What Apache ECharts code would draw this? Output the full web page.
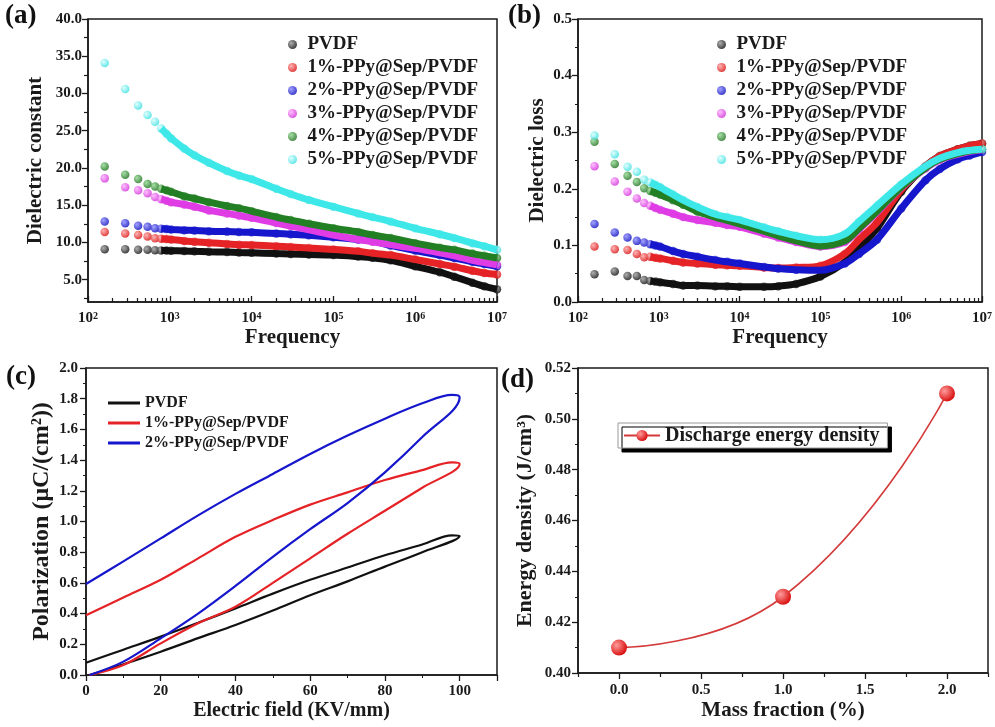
<!DOCTYPE html>
<html><head><meta charset="utf-8">
<script src="https://cdn.jsdelivr.net/npm/echarts@6/dist/echarts.min.js"></script>
<style>html,body{margin:0;padding:0;background:#fff}#c{width:995px;height:727px}</style>
</head><body><div id="c"></div>
<script>
// ---------- data ----------
const seriesNames = ['PVDF','1%-PPy@Sep/PVDF','2%-PPy@Sep/PVDF','3%-PPy@Sep/PVDF','4%-PPy@Sep/PVDF','5%-PPy@Sep/PVDF'];
const freq = [160, 285, 410, 535, 660, 785, 910, 1035, 1500, 2000, 3000, 5000, 7000, 10000, 20000, 30000, 50000, 1e5, 2e5, 3e5, 5e5, 1e6, 2e6, 3e6, 5e6, 7e6, 1e7];
// (a) dielectric constant
const epsPVDF = [9.07, 9.07, 9.0, 9.0, 8.95, 8.9, 8.9, 8.88, 8.85, 8.8, 8.75, 8.7, 8.65, 8.6, 8.5, 8.45, 8.38, 8.3, 8.1, 7.95, 7.6, 6.8, 6.0, 5.4, 4.6, 4.1, 3.7];
const eps1 = [11.4, 11.2, 11.0, 10.8, 10.55, 10.5, 10.45, 10.4, 10.2, 10.1, 9.95, 9.8, 9.7, 9.65, 9.5, 9.4, 9.25, 9.05, 8.8, 8.55, 8.3, 7.7, 7.1, 6.75, 6.2, 5.9, 5.7];
const eps2 = [12.8, 12.57, 12.25, 12.1, 11.9, 11.85, 11.8, 11.75, 11.65, 11.6, 11.5, 11.45, 11.4, 11.35, 11.2, 11.1, 10.95, 10.7, 10.4, 10.2, 9.6, 8.9, 8.3, 7.9, 7.4, 7.1, 6.8];
const eps3 = [18.6, 17.4, 17.0, 16.6, 16.1, 15.8, 15.6, 15.4, 15.1, 14.8, 14.3, 13.9, 13.6, 13.3, 12.6, 12.2, 11.7, 11.0, 10.4, 10.1, 9.7, 9.2, 8.6, 8.2, 7.6, 7.3, 7.0];
const eps4 = [20.2, 19.1, 18.5, 17.85, 17.5, 17.2, 17.0, 16.8, 16.2, 15.9, 15.4, 14.9, 14.6, 14.2, 13.4, 13.0, 12.5, 11.9, 11.4, 11.0, 10.6, 9.9, 9.3, 9.0, 8.5, 8.2, 7.9];
const eps5 = [34.1, 30.6, 28.4, 27.1, 26.2, 25.3, 24.6, 24.0, 22.6, 21.7, 20.7, 19.6, 19.0, 18.5, 17.2, 16.5, 15.7, 14.8, 13.9, 13.4, 12.8, 11.9, 11.1, 10.6, 9.9, 9.5, 9.0];
// (b) dielectric loss
const lossPVDF = [0.049, 0.054, 0.046, 0.046, 0.039, 0.037, 0.036, 0.035, 0.032, 0.029, 0.029, 0.028, 0.028, 0.027, 0.027, 0.028, 0.032, 0.045, 0.070, 0.095, 0.130, 0.195, 0.240, 0.258, 0.270, 0.276, 0.280];
const loss1 = [0.098, 0.093, 0.092, 0.085, 0.079, 0.080, 0.078, 0.077, 0.073, 0.070, 0.068, 0.066, 0.065, 0.064, 0.061, 0.060, 0.061, 0.064, 0.085, 0.110, 0.140, 0.198, 0.240, 0.258, 0.270, 0.276, 0.280];
const loss2 = [0.138, 0.123, 0.114, 0.108, 0.105, 0.102, 0.100, 0.098, 0.090, 0.085, 0.080, 0.074, 0.071, 0.068, 0.062, 0.059, 0.057, 0.056, 0.068, 0.085, 0.110, 0.165, 0.215, 0.235, 0.252, 0.259, 0.265];
const loss3 = [0.240, 0.213, 0.195, 0.183, 0.175, 0.170, 0.166, 0.163, 0.156, 0.150, 0.145, 0.140, 0.136, 0.133, 0.121, 0.114, 0.106, 0.098, 0.106, 0.128, 0.158, 0.202, 0.236, 0.251, 0.261, 0.266, 0.269];
const loss4 = [0.283, 0.244, 0.223, 0.212, 0.201, 0.196, 0.193, 0.190, 0.180, 0.172, 0.160, 0.150, 0.144, 0.138, 0.125, 0.117, 0.108, 0.099, 0.108, 0.130, 0.160, 0.203, 0.237, 0.252, 0.262, 0.267, 0.270];
const loss5 = [0.294, 0.261, 0.239, 0.230, 0.216, 0.211, 0.207, 0.203, 0.190, 0.180, 0.168, 0.155, 0.150, 0.145, 0.132, 0.125, 0.117, 0.110, 0.120, 0.142, 0.170, 0.208, 0.240, 0.254, 0.264, 0.268, 0.270];
// (c) P-E loops (lower branch up to 100, upper branch back to 0)
const loopNames = ['PVDF','1%-PPy@Sep/PVDF','2%-PPy@Sep/PVDF'];
const loopField = [1, 10, 20, 30, 40, 50, 60, 70, 80, 90, 100, 98, 90, 80, 70, 60, 50, 40, 30, 20, 10, 0];
const polPVDF = [0, 0.07, 0.152, 0.24, 0.326, 0.42, 0.52, 0.61, 0.706, 0.80, 0.905, 0.91, 0.85, 0.78, 0.70, 0.62, 0.53, 0.434, 0.34, 0.25, 0.165, 0.08];
const pol1 = [0, 0.065, 0.206, 0.337, 0.445, 0.60, 0.76, 0.92, 1.07, 1.22, 1.375, 1.385, 1.335, 1.27, 1.19, 1.11, 1.01, 0.90, 0.76, 0.62, 0.505, 0.39];
const pol2 = [0, 0.087, 0.239, 0.40, 0.58, 0.77, 0.95, 1.12, 1.32, 1.55, 1.81, 1.825, 1.77, 1.67, 1.56, 1.44, 1.31, 1.18, 1.04, 0.89, 0.74, 0.593];
// (d) energy density
const massFraction = [0, 1, 2];
const energyDensity = [0.41, 0.43, 0.51];
// tick labels
const epsTicks = [5, 10, 15, 20, 25, 30, 35, 40];
const massTicks = [0, 0.5, 1.0, 1.5, 2.0];

// ---------- styles ----------
const F = 'Liberation Serif';
const ink = '#1a1a1a';
const bandColors = ['#111111', '#e52226', '#1616cc', '#e03ce6', '#237f23', '#3fe8e8'];
const shade = [['#9a9a9a','#000000'], ['#ffa0a0','#d40000'], ['#8a8aff','#0000b8'], ['#ffb0ff','#cc22d4'], ['#8fd88f','#126412'], ['#d8ffff','#2cdcdc']];
function sphere(i) {
  return {type:'radial', x:0.35, y:0.35, r:0.75, colorStops:[{offset:0,color:shade[i][0]},{offset:1,color:shade[i][1]}]};
}
const lblFont = {fontFamily:F, fontWeight:'bold', fontSize:15, color:ink};
const nameFont = {fontFamily:F, fontWeight:'bold', fontSize:21, color:ink};
const axLine = {show:true, onZero:false, lineStyle:{color:ink, width:1.5}};
const minorLog = [];
for (let d = 2; d < 7; d++) for (let m = 2; m <= 9; m++) minorLog.push(m * Math.pow(10, d));
const epsMinor = [7.5, 12.5, 17.5, 22.5, 27.5, 32.5, 37.5, 2.5];
const massMinor = [-0.25, 0.25, 0.75, 1.25, 1.75, 2.25];

function logMain(grid) {
  return {gridIndex:grid, type:'log', logBase:10, min:100, max:1e7, splitNumber:5, position:'bottom',
    axisLine:axLine, axisTick:{inside:true, length:6, lineStyle:{color:ink, width:1.3}},
    splitLine:{show:false},
    axisLabel:{margin:9, formatter:v => '{b|10}{s|' + Math.round(Math.log10(v)) + '}',
      rich:{b:{fontFamily:F, fontWeight:'bold', fontSize:15, color:ink}, s:{fontFamily:F, fontWeight:'bold', fontSize:10, color:ink, verticalAlign:'top'}}},
    name:'Frequency', nameLocation:'middle', nameGap:25, nameTextStyle:nameFont};
}
function minorAxis(grid, type, min, max, vals, pos, inside) {
  return {gridIndex:grid, type:type, min:min, max:max, position:pos,
    axisLine:{show:false, onZero:false}, axisLabel:{show:false}, splitLine:{show:false},
    axisTick:{show:true, inside:inside, length:4, customValues:vals, lineStyle:{color:ink, width:1.2}}};
}

const grids = [
  {left:88, top:19, width:409, height:283},
  {left:578, top:19, width:410, height:283},
  {left:86, top:368, width:411, height:307},
  {left:578, top:368, width:410, height:305}
].map(g => Object.assign(g, {show:true, borderColor:ink, borderWidth:1.5}));

const xAxis = [
  logMain(0),
  minorAxis(0, 'log', 100, 1e7, minorLog, 'bottom', true),
  logMain(1),
  minorAxis(1, 'log', 100, 1e7, minorLog, 'bottom', true),
  {gridIndex:2, type:'value', min:0, max:110, interval:20, position:'bottom',
    axisLine:axLine, axisTick:{length:6, lineStyle:{color:ink, width:1.3}}, minorTick:{show:true, splitNumber:2, length:3, lineStyle:{color:ink}},
    splitLine:{show:false}, minorSplitLine:{show:false},
    axisLabel:Object.assign({margin:9, showMaxLabel:false}, lblFont),
    name:'Electric field (KV/mm)', nameLocation:'middle', nameGap:26, nameTextStyle:Object.assign({}, nameFont, {fontSize:20})},
  {gridIndex:3, type:'value', min:-0.25, max:2.25, position:'bottom',
    axisLine:axLine, axisTick:{length:6, customValues:massTicks, lineStyle:{color:ink, width:1.3}},
    splitLine:{show:false},
    axisLabel:Object.assign({margin:10, customValues:massTicks, formatter:v => v.toFixed(1)}, lblFont),
    name:'Mass fraction (%)', nameLocation:'middle', nameGap:27, nameTextStyle:Object.assign({}, nameFont, {fontSize:21})},
  minorAxis(3, 'value', -0.25, 2.25, massMinor, 'bottom', false)
];

const yAxis = [
  {gridIndex:0, type:'value', min:2, max:40, position:'left',
    axisLine:axLine, axisTick:{length:6, customValues:epsTicks, lineStyle:{color:ink, width:1.3}},
    splitLine:{show:false},
    axisLabel:Object.assign({margin:6, customValues:epsTicks, formatter:v => v.toFixed(1)}, lblFont),
    name:'Dielectric constant', nameLocation:'middle', nameGap:42, nameTextStyle:nameFont},
  minorAxis(0, 'value', 2, 40, epsMinor, 'left', false),
  {gridIndex:1, type:'value', min:0, max:0.5, interval:0.1, position:'left',
    axisLine:axLine, axisTick:{length:6, lineStyle:{color:ink, width:1.3}}, minorTick:{show:true, splitNumber:2, length:3, lineStyle:{color:ink}},
    splitLine:{show:false}, minorSplitLine:{show:false},
    axisLabel:Object.assign({margin:6, formatter:v => v.toFixed(1)}, lblFont),
    name:'Dielectric loss', nameLocation:'middle', nameGap:30, nameTextStyle:nameFont},
  {gridIndex:2, type:'value', min:0, max:2, interval:0.2, position:'left',
    axisLine:axLine, axisTick:{length:6, lineStyle:{color:ink, width:1.3}}, minorTick:{show:true, splitNumber:2, length:3, lineStyle:{color:ink}},
    splitLine:{show:false}, minorSplitLine:{show:false},
    axisLabel:Object.assign({margin:8, formatter:v => v.toFixed(1)}, lblFont),
    name:'Polarization (μC/(cm²))', nameLocation:'middle', nameGap:32, nameTextStyle:Object.assign({}, nameFont, {fontSize:24})},
  {gridIndex:3, type:'value', min:0.4, max:0.52, interval:0.02, position:'left',
    axisLine:axLine, axisTick:{length:6, lineStyle:{color:ink, width:1.3}}, minorTick:{show:true, splitNumber:2, length:3, lineStyle:{color:ink}},
    splitLine:{show:false}, minorSplitLine:{show:false},
    axisLabel:Object.assign({margin:7, formatter:v => v.toFixed(2)}, lblFont),
    name:'Energy density (J/cm³)', nameLocation:'middle', nameGap:42, nameTextStyle:Object.assign({}, nameFont, {fontSize:22})}
];

const epsSets = [epsPVDF, eps1, eps2, eps3, eps4, eps5];
const lossSets = [lossPVDF, loss1, loss2, loss3, loss4, loss5];
const polSets = [polPVDF, pol1, pol2];
const series = [];
const BAND_START = 5;
function addDielectric(sets, xi, yi, tag) {
  sets.forEach((vals, i) => {
    const pts = freq.map((f, j) => [f, vals[j]]);
    series.push({name:tag + i, type:'line', xAxisIndex:xi, yAxisIndex:yi, data:pts.slice(BAND_START),
      smooth:0.3, symbol:'none', silent:true, lineStyle:{color:bandColors[i], width:7}, itemStyle:{color:bandColors[i]}});
    series.push({name:seriesNames[i], type:'scatter', xAxisIndex:xi, yAxisIndex:yi, data:pts,
      symbol:'circle', symbolSize:8.5, itemStyle:{color:sphere(i)}});
  });
}
addDielectric(epsSets, 0, 0, 'bandA');
addDielectric(lossSets, 2, 2, 'bandB');
polSets.forEach((vals, i) => {
  series.push({name:'c:' + loopNames[i], type:'line', xAxisIndex:4, yAxisIndex:3,
    data:loopField.map((e, j) => [e, vals[j]]), smooth:0.35, symbol:'none',
    lineStyle:{color:bandColors[i], width:2.2}, itemStyle:{color:bandColors[i]}});
});
series.push({name:'Discharge energy density', type:'line', xAxisIndex:5, yAxisIndex:4,
  data:massFraction.map((m, j) => [m, energyDensity[j]]), smooth:true, symbol:'circle', symbolSize:16,
  lineStyle:{color:'#d43a3a', width:1.6}, itemStyle:{color:{type:'radial', x:0.35, y:0.35, r:0.75, colorStops:[{offset:0,color:'#ff9c9c'},{offset:1,color:'#d40000'}]}}});

const legendText = {fontFamily:F, fontWeight:'bold', fontSize:19, lineHeight:19, color:ink};
const option = {
  animation:false,
  backgroundColor:'#fff',
  grid:grids, xAxis:xAxis, yAxis:yAxis, series:series,
  legend:[
    {data:seriesNames, orient:'vertical', left:288, top:35, itemWidth:20, itemHeight:9, itemGap:4, icon:'circle', selectedMode:false, textStyle:legendText, padding:0},
    {data:seriesNames, orient:'vertical', left:717, top:35, itemWidth:20, itemHeight:9, itemGap:4, icon:'circle', selectedMode:false, textStyle:legendText, padding:0},
    {data:loopNames.map(n => 'c:' + n), formatter:n => n.slice(2), orient:'vertical', left:108, top:395, itemWidth:32, itemHeight:3, itemGap:4, icon:'rect', selectedMode:false, padding:0,
      textStyle:{fontFamily:F, fontWeight:'bold', fontSize:16, lineHeight:16, color:ink}},
    {data:['Discharge energy density'], left:618, top:423, itemWidth:36, itemHeight:14, selectedMode:false, padding:[2,8,2,5],
      backgroundColor:'#fff', borderColor:'#999', borderWidth:1, shadowColor:'#000', shadowBlur:0, shadowOffsetX:4, shadowOffsetY:4,
      textStyle:{fontFamily:F, fontWeight:'bold', fontSize:20, lineHeight:21, color:ink}}
  ],
  graphic:[
    {type:'text', left:5, top:3, style:{text:'(a)', font:'bold 27px "Liberation Serif"', fill:'#111'}},
    {type:'text', left:508, top:3, style:{text:'(b)', font:'bold 27px "Liberation Serif"', fill:'#111'}},
    {type:'text', left:6, top:364, style:{text:'(c)', font:'bold 27px "Liberation Serif"', fill:'#111'}},
    {type:'text', left:501, top:367, style:{text:'(d)', font:'bold 27px "Liberation Serif"', fill:'#111'}}
  ]
};
const chart = echarts.init(document.getElementById('c'), null, {renderer:'canvas'});
chart.setOption(option);
</script>
</body></html>
